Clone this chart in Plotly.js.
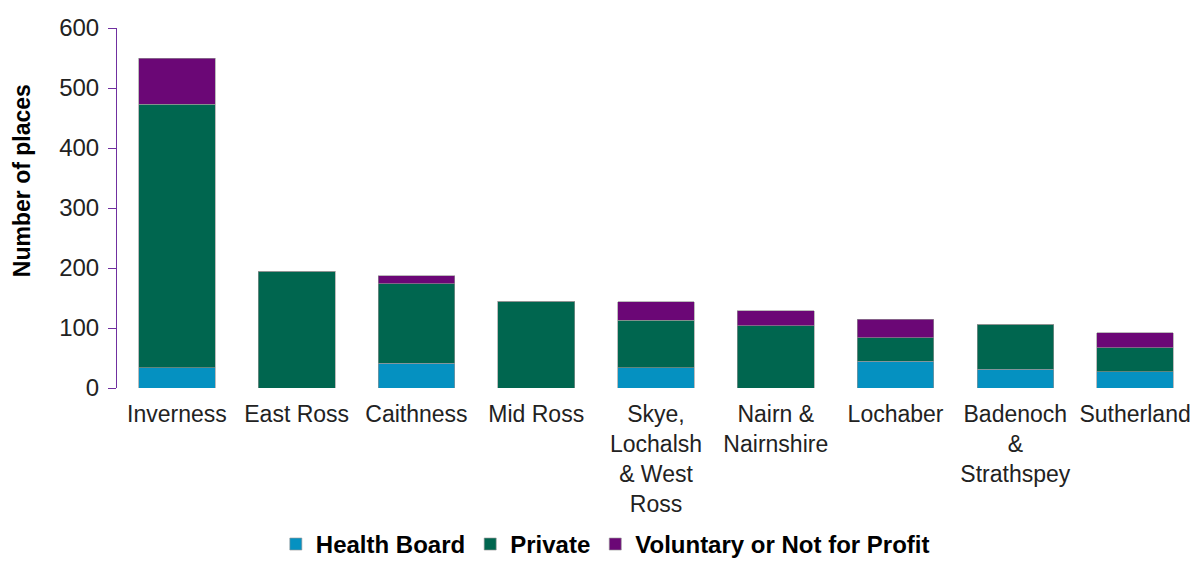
<!DOCTYPE html>
<html>
<head>
<meta charset="utf-8">
<script src="https://cdn.plot.ly/plotly-3.0.1.min.js"></script>
<style>html,body{margin:0;padding:0;background:#fff;}#chart{width:1197px;height:561px;}</style>
</head>
<body>
<div id="chart"></div>
<script>
const categories = ["Inverness", "East Ross", "Caithness", "Mid Ross", "Skye,<br>Lochalsh<br>& West<br>Ross", "Nairn &<br>Nairnshire", "Lochaber", "Badenoch<br>&<br>Strathspey", "Sutherland"];
const healthBoard = [34, 0, 41, 0, 34, 0, 45, 31, 27];
const privateSector = [439, 195, 133, 145, 79, 104, 39, 75, 40];
const voluntary = [77, 0, 13, 0, 31, 25, 31, 0, 25];
const yTicks = [0, 100, 200, 300, 400, 500, 600];

const font = "Liberation Sans, Arial, sans-serif";
const edge = {color: "rgba(150,150,150,0.8)", width: 0.8};

const traces = [
  {type: "bar", name: "Health Board", x: categories, y: healthBoard, marker: {color: "#0591C1", line: edge}},
  {type: "bar", name: "Private", x: categories, y: privateSector, marker: {color: "#00664F", line: edge}},
  {type: "bar", name: "Voluntary or Not for Profit", x: categories, y: voluntary, marker: {color: "#6B0776", line: edge}}
];

const layout = {
  width: 1197, height: 561,
  margin: {l: 117, r: 2, t: 28, b: 173, autoexpand: false},
  paper_bgcolor: "#fff", plot_bgcolor: "#fff",
  barmode: "stack",
  bargap: 0.36,
  font: {family: font, size: 23, color: "#222"},
  showlegend: true,
  legend: {orientation: "h", x: 0.453, xanchor: "center", y: -0.372, yanchor: "top",
           font: {family: font, size: 24, color: "#000", weight: "bold"}, traceorder: "normal",
           itemwidth: 30},
  xaxis: {showline: false, ticks: "", showgrid: false, zeroline: false, automargin: false,
          tickfont: {family: font, size: 23, color: "#222"}, ticklabelstandoff: 10},
  yaxis: {range: [0, 600], tickvals: yTicks, ticktext: yTicks.map(String), showgrid: false, zeroline: false,
          automargin: false,
          showline: true, linecolor: "#7030A0", linewidth: 1, ticks: "outside", ticklen: 8, tickcolor: "#7030A0",
          tickfont: {family: font, size: 24, color: "#222"}, ticklabelstandoff: 4},
  annotations: [{text: "<b>Number of places</b>", textangle: -90, xref: "paper", yref: "paper",
                 x: -0.088, y: 0.575, xanchor: "center", yanchor: "middle", showarrow: false,
                 font: {family: font, size: 23, color: "#000"}}]
};

Plotly.newPlot("chart", traces, layout, {displayModeBar: false, staticPlot: true});
</script>
</body>
</html>
